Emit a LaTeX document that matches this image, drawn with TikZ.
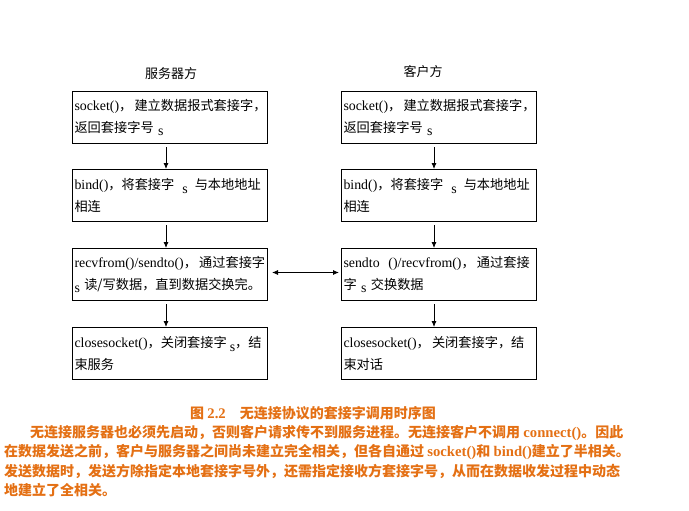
\documentclass[tikz,border=0pt]{standalone}
\usepackage{fontspec}
\setmainfont{Noto Sans CJK SC}
\newfontfamily\latf{Liberation Serif}[Scale=1.05]
\newcommand\lat[1]{{\latf #1}}
\newcommand\subs{\raisebox{-3.5pt}{\lat{s}}}
\usetikzlibrary{arrows.meta}
\definecolor{capor}{RGB}{228,112,20}
\tikzset{
  box/.style={draw, line width=1pt, minimum width=195pt, minimum height=52pt,
    text width=191pt, inner xsep=2pt, inner ysep=0pt, align=left,
    anchor=north west, font=\fontsize{13.2}{22}\selectfont},
  flow/.style={-{Latex[length=6pt,width=5pt]}, line width=0.8pt, shorten <=3pt},
  both/.style={{Latex[length=6pt,width=5pt]}-{Latex[length=6pt,width=5pt]}, line width=0.8pt},
  ttl/.style={font=\fontsize{13}{13}\selectfont, inner sep=0pt},
  para/.style={font=\fontsize{14}{14}\selectfont\bfseries, text=capor, inner sep=0pt, anchor=west}
}
\begin{document}
\begin{tikzpicture}[x=1pt,y=-1pt]
\useasboundingbox (0,0) rectangle (689,511);
\node[ttl] (ts) at (171,74) {服务器方};
\node[ttl] (tc) at (423,72) {客户方};

\node[box] (L1) at (72,91) {\mbox{\lat{socket()}，\,建立数据报式套接字，}\\返回套接字号 \subs};
\node[box] (L2) at (72,169) {\mbox{\lat{bind()}，将套接字\hspace{8pt}\subs\hspace{7pt}与本地地址}\\相连};
\node[box] (L3) at (72,248) {\mbox{\lat{recvfrom()/sendto()}，\,通过套接字}\\\subs\ 读/写数据，直到数据交换完。};
\node[box] (L4) at (72,327) {\mbox{\lat{closesocket()}，关闭套接字\hspace{3pt}\subs，结}\\束服务};

\node[box] (R1) at (341,91) {\mbox{\lat{socket()}，\,建立数据报式套接字，}\\返回套接字号 \subs};
\node[box] (R2) at (341,169) {\mbox{\lat{bind()}，将套接字\hspace{8pt}\subs\hspace{7pt}与本地地址}\\相连};
\node[box] (R3) at (341,248) {\mbox{\lat{sendto\ \ ()/recvfrom()}，\,通过套接}\\字 \subs\ 交换数据};
\node[box] (R4) at (341,327) {\mbox{\lat{closesocket()}，\,关闭套接字，结}\\束对话};

\draw[flow] (L1.south -| 166,0) -- (L2.north -| 166,0);
\draw[flow] (L2.south -| 166,0) -- (L3.north -| 166,0);
\draw[flow] (L3.south -| 166,0) -- (L4.north -| 166,0);
\draw[flow] (R1.south -| 434,0) -- (R2.north -| 434,0);
\draw[flow] (R2.south -| 434,0) -- (R3.north -| 434,0);
\draw[flow] (R3.south -| 434,0) -- (R4.north -| 434,0);
\draw[both, shorten <=4pt, shorten >=2pt] ([yshift=2pt]L3.east) -- ([yshift=2pt]R3.west);

\node[para] (cap) at (190,413) {图 \lat{2.2}\quad 无连接协议的套接字调用时序图};
\node[para] (p1) at (30,433) {无连接服务器也必须先启动，否则客户请求传不到服务进程。无连接客户不调用 \lat{connect()}。因此};
\node[para] (p2) at (4,452) {在数据发送之前，客户与服务器之间尚未建立完全相关，但各自通过 \lat{socket()}和 \lat{bind()}建立了半相关。};
\node[para] (p3) at (4,471) {发送数据时，发送方除指定本地套接字号外，还需指定接收方套接字号，从而在数据收发过程中动态};
\node[para] (p4) at (4,490) {地建立了全相关。};
\end{tikzpicture}
\end{document}
